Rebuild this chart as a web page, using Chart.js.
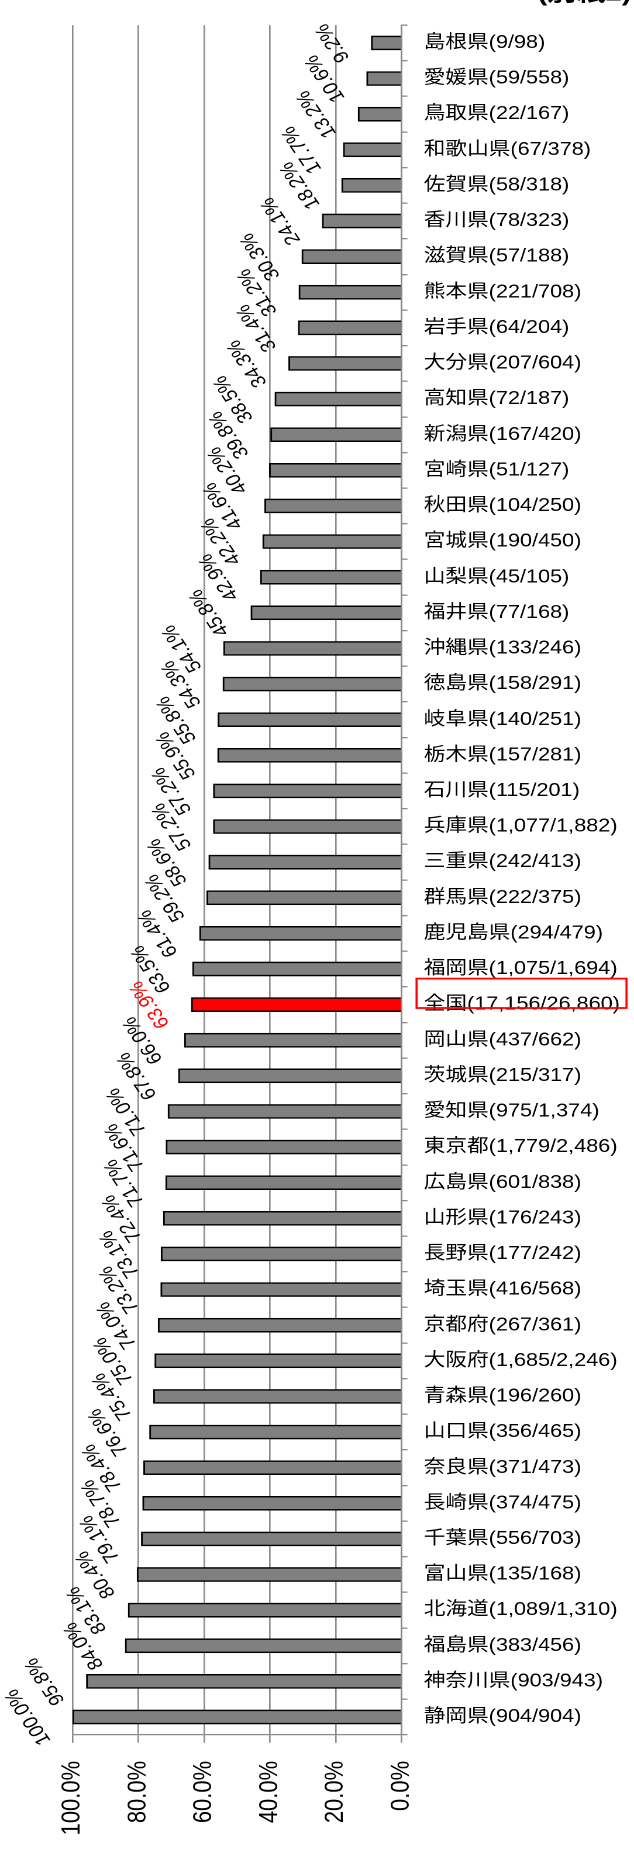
<!DOCTYPE html>
<html>
<head>
<meta charset="utf-8">
<script src="https://cdn.jsdelivr.net/npm/chart.js@4"></script>
<style>
html,body{margin:0;padding:0;background:#fff;overflow:hidden;}
#c{display:block;width:634px;height:1854px;}
</style>
</head>
<body>
<canvas id="c" width="542" height="1854" style="width:634px;height:1854px;"></canvas>
<script>
const prefectures = ['島根県','愛媛県','鳥取県','和歌山県','佐賀県','香川県','滋賀県','熊本県','岩手県','大分県','高知県','新潟県','宮崎県','秋田県','宮城県','山梨県','福井県','沖縄県','徳島県','岐阜県','栃木県','石川県','兵庫県','三重県','群馬県','鹿児島県','福岡県','全国','岡山県','茨城県','愛知県','東京都','広島県','山形県','長野県','埼玉県','京都府','大阪府','青森県','山口県','奈良県','長崎県','千葉県','富山県','北海道','福島県','神奈川県','静岡県'];
const counts = ['9/98','59/558','22/167','67/378','58/318','78/323','57/188','221/708','64/204','207/604','72/187','167/420','51/127','104/250','190/450','45/105','77/168','133/246','158/291','140/251','157/281','115/201','1,077/1,882','242/413','222/375','294/479','1,075/1,694','17,156/26,860','437/662','215/317','975/1,374','1,779/2,486','601/838','176/243','177/242','416/568','267/361','1,685/2,246','196/260','356/465','371/473','374/475','556/703','135/168','1,089/1,310','383/456','903/943','904/904'];
const values = [9.2,10.6,13.2,17.7,18.2,24.1,30.3,31.2,31.4,34.3,38.5,39.8,40.2,41.6,42.2,42.9,45.8,54.1,54.3,55.8,55.9,57.2,57.2,58.6,59.2,61.4,63.5,63.9,66.0,67.8,71.0,71.6,71.7,72.4,73.1,73.2,74.0,75.0,75.4,76.6,78.4,78.7,79.1,80.4,83.1,84.0,95.8,100.0];
const highlightName = '全国';
const tickValues = [0, 20, 40, 60, 80, 100];
const sheetNote = '(別紙2)';

const FONT = "'Liberation Sans', Arial, 'Noto Sans CJK JP', sans-serif";
const categories = prefectures.map((p, i) => p + '(' + counts[i] + ')');
const hi = prefectures.indexOf(highlightName);
const GRID = '#8a8a8a';

const overlay = {
  id: 'overlay',
  afterDatasetsDraw(chart) {
    const ctx = chart.ctx;
    const meta = chart.getDatasetMeta(0);
    const fs = 18;
    const a = -120 * Math.PI / 180;
    ctx.save();
    ctx.font = fs + 'px ' + FONT;
    meta.data.forEach((bar, i) => {
      const txt = values[i].toFixed(1) + '%';
      const w = ctx.measureText(txt).width;
      const capH = fs * 0.72;
      const hw = w / 2 * Math.abs(Math.cos(a)) + capH / 2 * Math.abs(Math.sin(a));
      const cx = bar.x - 17 - hw;
      const cy = bar.y;
      ctx.save();
      ctx.translate(cx, cy);
      ctx.rotate(a);
      ctx.textAlign = 'center';
      ctx.textBaseline = 'middle';
      ctx.fillStyle = i === hi ? '#ff0000' : '#000000';
      ctx.fillText(txt, 0, 0);
      ctx.restore();
    });
    ctx.restore();
  },
  afterDraw(chart) {
    const ctx = chart.ctx;
    const ys = chart.scales.y;
    const cy = ys.getPixelForValue(hi);
    ctx.save();
    ctx.strokeStyle = '#ff0000';
    ctx.lineWidth = 1.8;
    ctx.strokeRect(ys.left + 12.8, cy - 26, 179.5, 29.4);
    ctx.font = 'bold 25px ' + FONT;
    ctx.textAlign = 'right';
    ctx.textBaseline = 'alphabetic';
    ctx.fillStyle = '#000';
    ctx.fillText(sheetNote, 540, 0.5);
    ctx.restore();
  }
};

Chart.defaults.font.family = FONT;
Chart.defaults.color = '#000';

new Chart(document.getElementById('c'), {
  type: 'bar',
  data: {
    labels: categories,
    datasets: [{
      data: values,
      backgroundColor: values.map((v, i) => i === hi ? '#ff0000' : '#808080'),
      borderColor: '#000000',
      borderWidth: 1.5,
      barThickness: 14
    }]
  },
  options: {
    indexAxis: 'y',
    responsive: false,
    animation: false,
    devicePixelRatio: 2,
    layout: { padding: { left: 62.1, top: 12.6, right: 0, bottom: 0 } },
    plugins: { legend: { display: false }, tooltip: { enabled: false }, title: { display: false } },
    scales: {
      x: {
        type: 'linear',
        position: 'bottom',
        reverse: true,
        min: 0,
        max: 100,
        afterBuildTicks: (s) => { s.ticks = tickValues.map(v => ({ value: v })); },
        afterFit: (s) => { s.height = 1854 - 1734.8; },
        grid: { color: GRID, lineWidth: 1.3, tickLength: 8, drawOnChartArea: true, drawTicks: true },
        border: { color: GRID, width: 1.3 },
        ticks: {
          autoSkip: false,
          minRotation: 90,
          maxRotation: 90,
          padding: 18,
          font: { size: 22 },
          color: '#000',
          callback: (v) => Number(v).toFixed(1) + '%'
        }
      },
      y: {
        type: 'category',
        position: 'right',
        offset: true,
        afterFit: (s) => { s.width = 542 - 343.3; },
        grid: { color: GRID, lineWidth: 1.3, tickLength: 5, drawOnChartArea: false, drawTicks: true, offset: true },
        border: { color: GRID, width: 1.3 },
        ticks: {
          autoSkip: false,
          padding: 14,
          font: { size: 18.5 },
          color: '#000'
        }
      }
    }
  },
  plugins: [overlay]
});
</script>
</body>
</html>
